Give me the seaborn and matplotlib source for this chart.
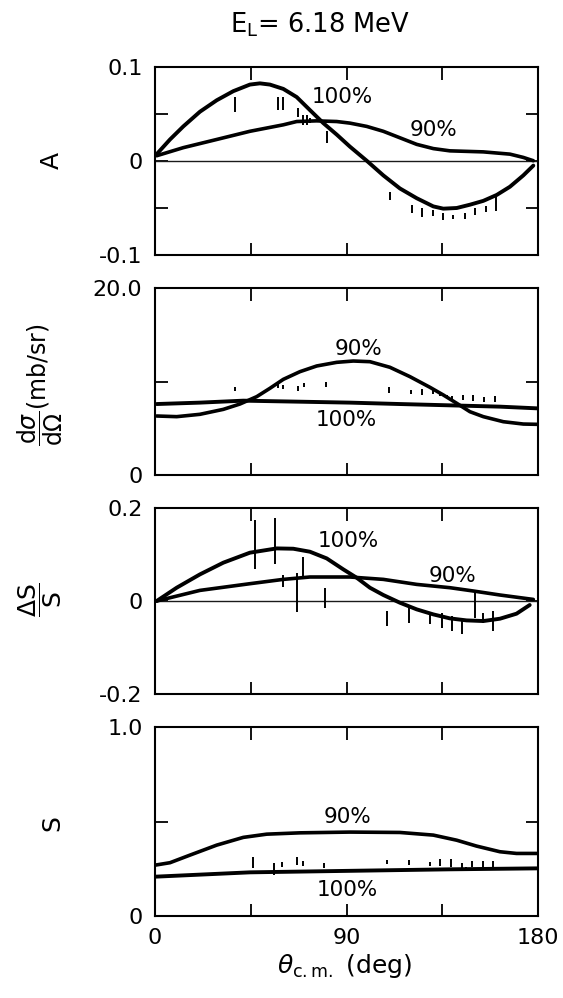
import matplotlib
matplotlib.use("Agg")
import matplotlib.pyplot as plt
import seaborn as sns

# ---------------- data ----------------
# Panel A (analyzing power)
thA100 = [0.8, 7.05, 13.3, 21.1, 29.0, 36.8, 44.6, 49.3, 54.0, 60.3, 66.6, 72.8, 79.1, 85.4, 91.6,
          99.5, 107.3, 115.1, 123.0, 130.8, 135.5, 141.8, 148.0, 154.3, 160.6, 166.8, 173.1, 177.8]
A100 = [0.0073, 0.0229, 0.0368, 0.0524, 0.0646, 0.0743, 0.0813, 0.0826, 0.0813, 0.0767, 0.068, 0.0542,
        0.0403, 0.0281, 0.0153, 0.0003, -0.0153, -0.0292, -0.0396, -0.0483, -0.0507, -0.0500, -0.0465,
        -0.0424, -0.0361, -0.0274, -0.0153, -0.0049]
thA90 = [0.8, 13.3, 29.0, 44.6, 60.3, 66.6, 75.9, 85.4, 91.6, 99.5, 107.3, 115.1, 123.0, 130.8, 138.6,
         154.3, 166.8, 173.1, 177.8]
A90 = [0.0056, 0.0142, 0.0229, 0.0316, 0.0385, 0.042, 0.0427, 0.042, 0.0403, 0.0368, 0.0316, 0.0247,
       0.0177, 0.0132, 0.0108, 0.0097, 0.0073, 0.0038, 0.0003]
thA_exp = [37.6, 58.0, 60.3, 67.4, 69.7, 71.3, 72.8, 80.7, 110.4, 120.6, 125.3, 130.6, 135.3, 140.0,
           145.5, 150.2, 155.7, 160.4]
A_lo = [0.0524, 0.0538, 0.0538, 0.047, 0.0385, 0.0385, 0.040, 0.0195, -0.0414, -0.055, -0.060, -0.058,
        -0.063, -0.062, -0.062, -0.057, -0.054, -0.053]
A_hi = [0.068, 0.068, 0.068, 0.056, 0.049, 0.049, 0.046, 0.032, -0.0326, -0.047, -0.050, -0.052,
        -0.055, -0.057, -0.055, -0.050, -0.048, -0.038]

# Panel dsigma/dOmega (mb/sr)
thX100 = [0.8, 21.1, 41.5, 68.1, 91.6, 115.1, 138.6, 162.1, 179.4]
X100 = [7.59, 7.74, 7.95, 7.84, 7.74, 7.59, 7.45, 7.31, 7.13]
thX90 = [0.8, 10.2, 21.1, 32.1, 39.9, 47.8, 54.0, 60.3, 68.1, 76.0, 85.4, 93.2, 101.0, 110.4, 119.8,
         129.2, 135.5, 141.8, 148.0, 154.3, 163.7, 173.1, 179.4]
X90 = [6.31, 6.24, 6.49, 7.02, 7.59, 8.38, 9.27, 10.23, 11.05, 11.66, 12.05, 12.19, 12.12, 11.52, 10.52,
       9.38, 8.56, 7.67, 6.77, 6.24, 5.70, 5.45, 5.42]
thX_exp = [37.6, 58.0, 60.3, 67.4, 70.0, 80.2, 110.0, 120.3, 125.3, 130.8, 133.9, 137.0, 139.4, 144.8,
           149.5, 154.6, 159.6]
X_lo = [9.02, 9.27, 9.16, 9.02, 9.38, 9.38, 8.81, 8.66, 8.56, 8.63, 8.45, 8.20, 8.10, 8.02, 7.95, 7.84, 7.84]
X_hi = [9.44, 9.80, 9.62, 9.52, 9.87, 9.98, 9.38, 9.09, 9.16, 9.09, 8.91, 8.56, 8.45, 8.56, 8.56, 8.38, 8.45]

# Panel Delta S / S
thD100 = [0.8, 10.2, 21.1, 32.1, 44.6, 57.2, 65.0, 72.8, 80.7, 88.5, 94.8, 101.0, 107.3, 115.1, 123.0,
          130.8, 138.6, 146.4, 154.3, 162.1, 169.9, 176.1]
D100 = [0.0, 0.0286, 0.0572, 0.0824, 0.1039, 0.1131, 0.1124, 0.106, 0.0916, 0.068, 0.050, 0.0286, 0.0129,
        -0.0037, -0.018, -0.0288, -0.0374, -0.0417, -0.0431, -0.0381, -0.0273, -0.0086]
thD90 = [0.8, 21.1, 44.6, 60.3, 72.8, 91.6, 107.3, 123.0, 138.6, 149.6, 162.1, 177.8]
D90 = [0.0, 0.0228, 0.0372, 0.0465, 0.0516, 0.0516, 0.0465, 0.0357, 0.0286, 0.0215, 0.0129, 0.0034]
thD_exp = [47.0, 56.4, 60.0, 66.6, 69.7, 79.9, 109.2, 119.5, 129.2, 134.7, 139.4, 144.1, 150.4, 154.3, 159.0]
D_lo = [0.068, 0.079, 0.030, -0.023, 0.052, -0.014, -0.054, -0.047, -0.050, -0.057, -0.064, -0.072,
        -0.036, -0.047, -0.064]
D_hi = [0.175, 0.179, 0.056, 0.061, 0.095, 0.029, -0.0215, -0.011, -0.025, -0.025, -0.032, -0.043,
        0.0215, -0.025, -0.0215]

# Panel S
thS90 = [0.0, 7.05, 16.4, 29.0, 41.5, 52.5, 68.1, 91.6, 115.1, 130.8, 141.8, 151.1, 162.1, 169.9, 179.4]
S90 = [0.269, 0.282, 0.322, 0.375, 0.416, 0.433, 0.440, 0.444, 0.442, 0.428, 0.401, 0.370, 0.340, 0.331, 0.331]
thS100 = [0.0, 44.6, 91.6, 138.6, 179.4]
S100 = [0.208, 0.231, 0.239, 0.247, 0.252]
thS_exp = [46.2, 55.9, 59.5, 66.6, 69.4, 79.6, 109.2, 119.4, 129.2, 133.9, 139.1, 144.4, 146.1, 149.1, 154.3, 159.0]
S_lo = [0.252, 0.217, 0.260, 0.270, 0.266, 0.252, 0.275, 0.270, 0.265, 0.265, 0.261, 0.252, 0.240, 0.261, 0.261, 0.261]
S_hi = [0.313, 0.279, 0.288, 0.313, 0.290, 0.283, 0.296, 0.296, 0.288, 0.300, 0.300, 0.279, 0.261, 0.293, 0.293, 0.293]

x_ticks = [0, 45, 90, 135, 180]
x_ticklabels = ["0", "", "90", "", "180"]

# ---------------- figure ----------------
sns.set_theme(style="ticks")
plt.rcParams['font.family'] = ['DejaVu Sans']
plt.rcParams['mathtext.fontset'] = 'dejavusans'
for k in ["text.color", "axes.labelcolor", "xtick.color", "ytick.color", "axes.edgecolor"]:
    plt.rcParams[k] = "black"

W, H = 563, 998
fig = plt.figure(figsize=(W / 100, H / 100), dpi=100)
fig.patch.set_facecolor("white")

def add_ax(top, bottom):
    return fig.add_axes([155 / W, 1 - bottom / H, (538 - 155) / W, (bottom - top) / H])

panels = [
    dict(box=(67, 255), ylim=(-0.1, 0.1), yt=[-0.1, -0.05, 0, 0.05, 0.1], ytl=["-0.1", "", "0", "", "0.1"],
         c100=(thA100, A100), c90=(thA90, A90), exp=(thA_exp, A_lo, A_hi), zero=True,
         l100=(88, 0.068), l90=(131, 0.033)),
    dict(box=(288, 475), ylim=(0, 20), yt=[0, 10, 20], ytl=["0", "", "20.0"],
         c100=(thX100, X100), c90=(thX90, X90), exp=(thX_exp, X_lo, X_hi), zero=False,
         l100=(90, 5.9), l90=(95.5, 13.5)),
    dict(box=(508, 694), ylim=(-0.2, 0.2), yt=[-0.2, 0, 0.2], ytl=["-0.2", "0", "0.2"],
         c100=(thD100, D100), c90=(thD90, D90), exp=(thD_exp, D_lo, D_hi), zero=True,
         l100=(91, 0.129), l90=(140, 0.054)),
    dict(box=(727, 916), ylim=(0, 1.0), yt=[0, 0.5, 1.0], ytl=["0", "", "1.0"],
         c100=(thS100, S100), c90=(thS90, S90), exp=(thS_exp, S_lo, S_hi), zero=False,
         l100=(90.4, 0.137), l90=(90.4, 0.525)),
]

for i, p in enumerate(panels):
    ax = add_ax(*p["box"])
    ax.set_facecolor("white")
    if p["zero"]:
        ax.axhline(0, color="k", lw=1.0, zorder=1)
    sns.lineplot(x=p["c100"][0], y=p["c100"][1], ax=ax, color="black", lw=2.8, sort=False, estimator=None)
    sns.lineplot(x=p["c90"][0], y=p["c90"][1], ax=ax, color="black", lw=2.6, sort=False, estimator=None)
    ax.vlines(p["exp"][0], p["exp"][1], p["exp"][2], colors="black", lw=1.4)
    ax.text(p["l100"][0], p["l100"][1], "100%", ha="center", va="center", fontsize=15.5)
    ax.text(p["l90"][0], p["l90"][1], "90%", ha="center", va="center", fontsize=15.5)
    ax.set_xlim(0, 180)
    ax.set_ylim(*p["ylim"])
    ax.set_xticks(x_ticks)
    ax.set_yticks(p["yt"])
    ax.set_yticklabels(p["ytl"])
    if i == 3:
        ax.set_xticklabels(x_ticklabels)
    else:
        ax.set_xticklabels([""] * 5)
    ax.tick_params(direction="in", length=9, width=1.3, top=True, right=True,
                   labelsize=16, colors="black", pad=9)
    for s in ax.spines.values():
        s.set_linewidth(1.5)
        s.set_color("black")
        s.set_visible(True)
    ax.set_xlabel("")
    ax.set_ylabel("")

fig.text(320 / W, 1 - 25 / H, r"$\mathrm{E_L}$= 6.18 MeV", ha="center", va="center", fontsize=18.5)
fig.text(52 / W, 1 - 160 / H, "A", ha="center", va="center", fontsize=18, rotation=90)
fig.text(40 / W, 1 - 385 / H, r"$\dfrac{\mathrm{d}\sigma}{\mathrm{d}\Omega}$(mb/sr)", ha="center",
         va="center", fontsize=17, rotation=90)
fig.text(40 / W, 1 - 600 / H, r"$\dfrac{\mathrm{\Delta S}}{\mathrm{S}}$", ha="center", va="center",
         fontsize=18, rotation=90)
fig.text(52 / W, 1 - 823 / H, "S", ha="center", va="center", fontsize=18, rotation=90)
fig.text(345 / W, 1 - 966 / H, r"$\theta_{\mathrm{c.m.}}$ (deg)", ha="center", va="center", fontsize=18)

fig.savefig("out.png", dpi=100, facecolor="white")
